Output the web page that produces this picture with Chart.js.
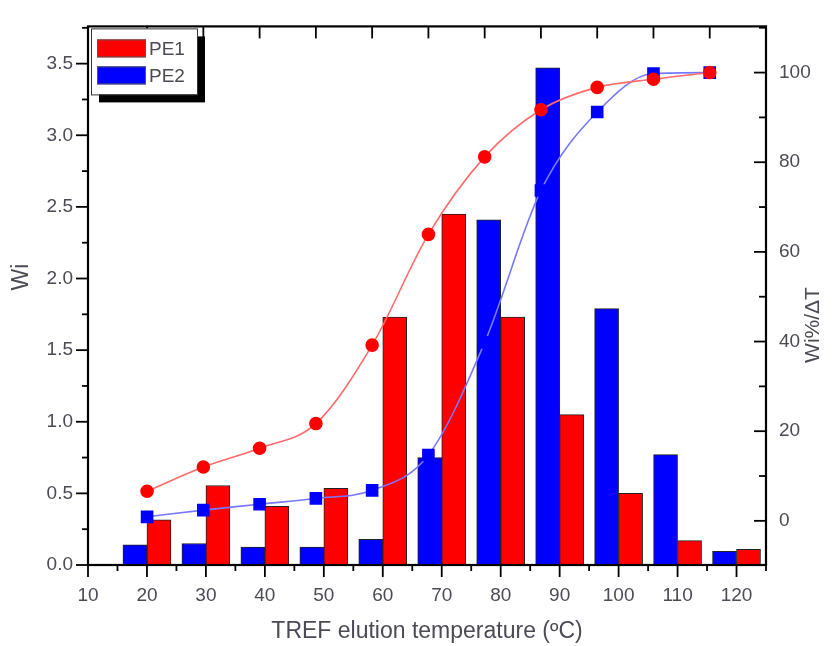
<!DOCTYPE html>
<html>
<head>
<meta charset="utf-8">
<script src="https://cdn.jsdelivr.net/npm/chart.js@4.4.1/dist/chart.umd.min.js"></script>
<style>
    html, body { margin: 0; padding: 0; background: #fff; }
</style>
</head>
<body>
<canvas id="trefChart" width="834" height="646"></canvas>
<script>
// bar centres (TREF elution temperature, degC)
const temps = [20, 30, 40, 50, 60, 70, 80, 90, 100, 110, 120]
// Wi per fraction
const pe1Wi = [0.315, 0.555, 0.41, 0.535, 1.73, 2.45, 1.73, 1.05, 0.50, 0.17, 0.11]
const pe2Wi = [0.14, 0.15, 0.125, 0.125, 0.18, 0.75, 2.41, 3.47, 1.79, 0.77, 0.095]
// cumulative Wi%/dT (plotted against the top axis)
const pe1Cum = [6.6, 12.0, 16.2, 21.7, 39.2, 63.9, 81.2, 91.7, 96.7, 98.5, 100.0]
const pe2Cum = [0.9, 2.4, 3.7, 5.0, 6.8, 14.7, 39.8, 73.7, 91.2, 99.8, 100.0]
// tick labels
const xTicks = [10, 20, 30, 40, 50, 60, 70, 80, 90, 100, 110, 120]
const wiTicks = [0, 0.5, 1.0, 1.5, 2.0, 2.5, 3.0, 3.5]
const cumTicks = [0, 20, 40, 60, 80, 100]

const labelFont = 'Liberation Sans, Arial, sans-serif'
const textGrey = '#4b4b55'

function pairs(xs, ys) {
    return xs.map((x, i) => ({ x: x, y: ys[i] }))
}

function fixedTicks(values) {
    return (scale) => {
        scale.ticks = values.map((v) => ({ value: v }))
    }
}

const legendItems = [
    { label: 'PE1', color: '#ff0000' },
    { label: 'PE2', color: '#0000ff' },
]

const framePlugin = {
    id: 'framePlugin',
    afterDraw(chart) {
        const ctx = chart.ctx
        const { left, right, top, bottom } = chart.chartArea
        const sx = chart.scales.x
        const sx2 = chart.scales.x2
        const sy = chart.scales.y
        const sy1 = chart.scales.y1

        const seg = (a, b, c, d) => {
            ctx.beginPath()
            ctx.moveTo(a, b)
            ctx.lineTo(c, d)
            ctx.stroke()
        }

        ctx.save()
        ctx.strokeStyle = '#000'
        ctx.lineWidth = 1.8
        // bottom: majors every 10, minors every 5, outward
        for (let i = 0; i <= 23; i++) {
            const v = 10 + i * 5
            if (v > sx.max) break
            const px = sx.getPixelForValue(v)
            seg(px, bottom, px, bottom + (i % 2 === 0 ? 12 : 6))
        }
        // left: majors 0.5, minors 0.25, outward
        for (let i = 0; i <= 15; i++) {
            const v = i * 0.25
            if (v > sy.max) break
            const py = sy.getPixelForValue(v)
            seg(left, py, left - (i % 2 === 0 ? 12 : 6), py)
        }
        // right: majors 20, minors 10, inward
        for (let i = 0; i <= 11; i++) {
            const v = i * 10
            if (v > sy1.max) break
            const py = sy1.getPixelForValue(v)
            seg(right, py, right - (i % 2 === 0 ? 12 : 7), py)
        }
        // top: ticks of the line plot axis, inward
        for (let v = 20; v <= 120; v += 10) {
            const px = sx2.getPixelForValue(v)
            seg(px, top, px, top + 12)
        }
        ctx.lineWidth = 2.2
        ctx.strokeRect(left, top, right - left, bottom - top)

        // y titles (both read bottom to top)
        ctx.fillStyle = textGrey
        ctx.font = '23px ' + labelFont
        ctx.textAlign = 'center'
        ctx.textBaseline = 'middle'
        ctx.save()
        ctx.translate(22, 277)
        ctx.rotate(-Math.PI / 2)
        ctx.fillText('Wi', 0, 0)
        ctx.restore()
        ctx.font = '21px ' + labelFont
        ctx.save()
        ctx.translate(813, 325)
        ctx.rotate(-Math.PI / 2)
        ctx.fillText('Wi%/\u0394T', 0, 0)
        ctx.restore()

        // legend box with drop shadow
        const bx = left + 3
        const by = top + 2
        const bw = 106
        const bh = 66
        ctx.fillStyle = '#000'
        ctx.fillRect(bx + 8, by + 8, bw, bh)
        ctx.fillStyle = '#fff'
        ctx.fillRect(bx, by, bw, bh)
        ctx.lineWidth = 1
        ctx.strokeStyle = '#333'
        ctx.strokeRect(bx + 0.5, by + 0.5, bw, bh)
        ctx.font = '19px ' + labelFont
        ctx.textAlign = 'left'
        legendItems.forEach((item, i) => {
            const ry = by + 11 + i * 27
            ctx.fillStyle = item.color
            ctx.fillRect(bx + 6, ry, 49, 18)
            ctx.strokeStyle = '#555'
            ctx.strokeRect(bx + 6.5, ry + 0.5, 48, 17)
            ctx.fillStyle = textGrey
            ctx.fillText(item.label, bx + 58, ry + 10)
        })
        ctx.restore()
    },
}

const data = {
    datasets: [
        {
            type: 'line',
            label: 'PE1 cumulative',
            data: pairs(temps, pe1Cum),
            xAxisID: 'x2',
            yAxisID: 'y1',
            order: 0,
            borderColor: '#ff6b6b',
            borderWidth: 1.6,
            backgroundColor: '#ff0000',
            pointBackgroundColor: '#ff0000',
            pointBorderColor: '#ff0000',
            pointStyle: 'circle',
            pointRadius: 6,
            cubicInterpolationMode: 'monotone',
        },
        {
            type: 'line',
            label: 'PE2 cumulative',
            data: pairs(temps, pe2Cum),
            xAxisID: 'x2',
            yAxisID: 'y1',
            order: 0,
            borderColor: '#7878ff',
            borderWidth: 1.6,
            backgroundColor: '#0000ff',
            pointBackgroundColor: '#0000ff',
            pointBorderColor: '#0000ff',
            pointStyle: 'rect',
            pointRadius: 7.8,
            cubicInterpolationMode: 'monotone',
        },
        {
            type: 'bar',
            label: 'PE2',
            data: pairs(temps, pe2Wi),
            xAxisID: 'x',
            yAxisID: 'y',
            order: 1,
            backgroundColor: '#0000ff',
            borderColor: '#222',
            borderWidth: 1,
            barThickness: 24,
        },
        {
            type: 'bar',
            label: 'PE1',
            data: pairs(temps, pe1Wi),
            xAxisID: 'x',
            yAxisID: 'y',
            order: 1,
            backgroundColor: '#ff0000',
            borderColor: '#222',
            borderWidth: 1,
            barThickness: 24,
        },
    ],
}

const config = {
    type: 'bar',
    data: data,
    options: {
        responsive: false,
        animation: false,
        layout: { padding: { top: 16, left: 0, right: 0, bottom: 0 } },
        plugins: {
            legend: { display: false },
            tooltip: { enabled: false },
        },
        scales: {
            x: {
                type: 'linear',
                position: 'bottom',
                offset: false,
                min: 10,
                max: 125,
                afterBuildTicks: fixedTicks(xTicks),
                afterFit: (scale) => {
                    scale.height = 81
                },
                grid: { display: false, drawTicks: false, offset: false },
                border: { display: false },
                ticks: {
                    padding: 19,
                    color: textGrey,
                    font: { family: labelFont, size: 19 },
                    maxRotation: 0,
                },
                title: {
                    display: true,
                    text: 'TREF elution temperature (\u00baC)',
                    color: textGrey,
                    font: { family: labelFont, size: 23 },
                    padding: { top: 0, bottom: 1 },
                },
            },
            x2: {
                type: 'linear',
                display: false,
                offset: false,
                grid: { offset: false },
                min: 9.5,
                max: 130,
            },
            y: {
                type: 'linear',
                position: 'left',
                min: 0,
                max: 3.76,
                afterBuildTicks: fixedTicks(wiTicks),
                afterFit: (scale) => {
                    scale.width = 88
                },
                grid: { display: false, drawTicks: false },
                border: { display: false },
                ticks: {
                    padding: 15,
                    color: textGrey,
                    font: { family: labelFont, size: 19 },
                    callback: (v) => Number(v).toFixed(1),
                },
            },
            y1: {
                type: 'linear',
                position: 'right',
                min: -9.85,
                max: 110.3,
                afterBuildTicks: fixedTicks(cumTicks),
                afterFit: (scale) => {
                    scale.width = 68
                },
                grid: { display: false, drawTicks: false },
                border: { display: false },
                ticks: {
                    padding: 13,
                    color: textGrey,
                    font: { family: labelFont, size: 19 },
                },
            },
        },
    },
    plugins: [framePlugin],
}

const ctx = document.getElementById('trefChart').getContext('2d')
const trefChart = new Chart(ctx, config)
</script>
</body>
</html>
